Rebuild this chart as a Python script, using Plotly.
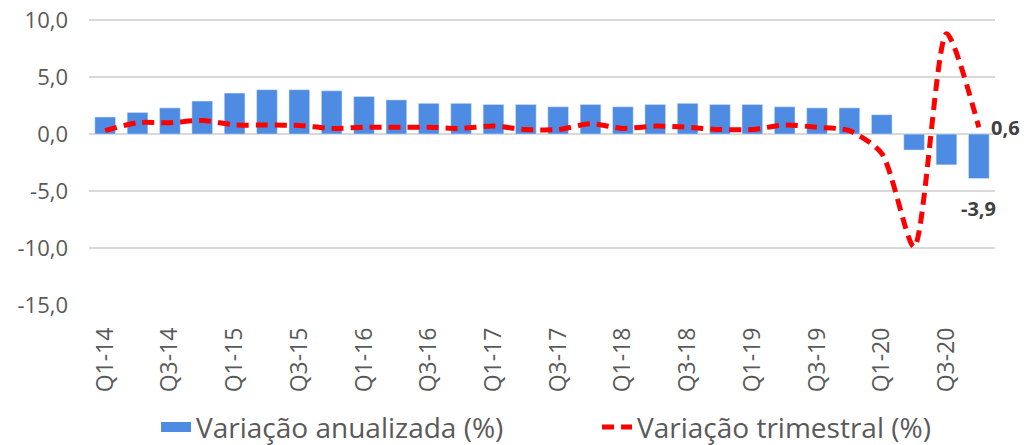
import plotly.graph_objects as go

quarters = [f"Q{q}-{y}" for y in range(14, 21) for q in range(1, 5)]

# Variação anualizada (%) - barras
anual = [1.5, 1.9, 2.3, 2.9, 3.6, 3.9, 3.9, 3.8, 3.3, 3.0, 2.7, 2.7, 2.6, 2.6,
         2.4, 2.6, 2.4, 2.6, 2.7, 2.6, 2.6, 2.4, 2.3, 2.3, 1.7, -1.4, -2.7, -3.9]

# Variação trimestral (%) - linha
trimestral = [0.3, 1.0, 1.0, 1.2, 0.8, 0.8, 0.75, 0.5, 0.6, 0.6, 0.6, 0.5, 0.7, 0.4,
              0.4, 0.9, 0.5, 0.7, 0.6, 0.4, 0.4, 0.8, 0.6, 0.3, -1.7, -9.9, 8.8, 0.6]

x_tick_labels = quarters[::2]
y_tick_vals = [-15, -10, -5, 0, 5, 10]
y_tick_text = ["-15,0", "-10,0", "-5,0", "0,0", "5,0", "10,0"]

font_name = "Open Sans"
grey = "#595959"
blue = "#4E8CE4"
red = "#FF0000"
label_font = dict(family=font_name, size=20, color="#404040", weight="bold")

fig = go.Figure()
fig.add_trace(go.Bar(
    x=quarters, y=anual, name="Variação anualizada (%)",
    marker_color=blue, showlegend=False,
))
# legend entry for the bars (wide block like the original)
fig.add_trace(go.Scatter(
    x=[None], y=[None], mode="lines", name="Variação anualizada (%)",
    line=dict(color=blue, width=18),
))
fig.add_trace(go.Scatter(
    x=quarters, y=trimestral, name="Variação trimestral (%)",
    mode="lines",
    line=dict(color=red, width=5, dash="12px,7px", shape="spline", smoothing=0.7),
))

fig.add_annotation(x=quarters[-1], y=trimestral[-1], text="<b>0,6</b>",
                   showarrow=False, xanchor="left", yanchor="middle", xshift=10,
                   font=label_font)
fig.add_annotation(x=quarters[-1], y=anual[-1], text="<b>-3,9</b>",
                   showarrow=False, xanchor="center", yanchor="top", yshift=-14,
                   font=label_font)

fig.update_layout(
    width=1028, height=445,
    margin=dict(l=81, r=41, t=11, b=148),
    plot_bgcolor="white", paper_bgcolor="white",
    font=dict(family=font_name, color=grey),
    bargap=0.36,
    showlegend=True,
    legend=dict(orientation="h", xref="container", x=0.144, xanchor="left",
                yref="container", y=0.058, yanchor="middle",
                font=dict(size=28, color=grey),
                entrywidth=396, entrywidthmode="pixels"),
)
fig.update_yaxes(
    range=[-15, 10.1], tickvals=y_tick_vals, ticktext=y_tick_text,
    showgrid=True, gridcolor="#D9D9D9", gridwidth=1.5,
    zeroline=True, zerolinecolor="#D9D9D9", zerolinewidth=1.5,
    tickfont=dict(size=22, color=grey), ticklabelstandoff=20,
    ticklabeloverflow="allow", automargin=False,
)
fig.update_xaxes(
    range=[-0.5, len(quarters) - 0.5],
    tickvals=x_tick_labels, ticktext=x_tick_labels, tickangle=-90,
    tickfont=dict(size=23, color=grey), ticklabelstandoff=17,
    showgrid=False, automargin=False,
)

fig.write_html("out.html")
